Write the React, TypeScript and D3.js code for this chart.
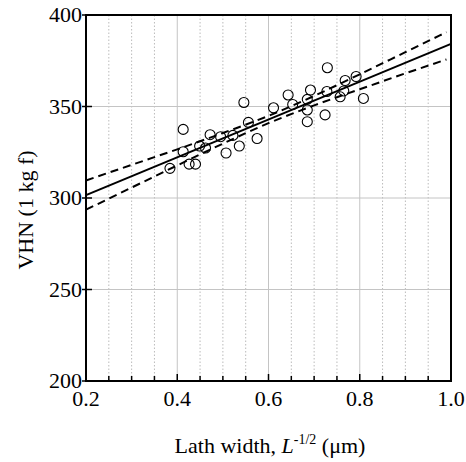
import React from "react";
import * as d3 from "d3";

const W = 466;
const H = 462;
const M = { left: 86, right: 15, top: 15, bottom: 81 };

const xMajorTicks = [0.2, 0.4, 0.6, 0.8, 1.0];
const xMinorTicks = [0.25, 0.3, 0.35, 0.45, 0.5, 0.55, 0.65, 0.7, 0.75, 0.85, 0.9, 0.95];
const yTicks = [200, 250, 300, 350, 400];

const pointX = [0.384, 0.413, 0.413, 0.426, 0.44, 0.449, 0.462, 0.472, 0.495, 0.507, 0.522, 0.536, 0.546, 0.556, 0.575, 0.611, 0.643, 0.653, 0.685, 0.685, 0.685, 0.692, 0.724, 0.729, 0.728, 0.757, 0.768, 0.792, 0.808, 0.765];
const pointY = [316.2, 337.5, 325.3, 318.5, 318.5, 328.4, 327.3, 334.6, 333.5, 324.6, 334.2, 328.4, 352.2, 341.3, 332.5, 349.3, 356.3, 351.1, 353.9, 348.1, 341.7, 359.0, 345.4, 371.2, 358.2, 355.3, 364.2, 366.4, 354.4, 358.5];

const fitX = [0.2, 1.0];
const fitY = [301.6, 384.2];

const bandX = [0.2, 0.3, 0.4, 0.5, 0.6, 0.7, 0.8, 0.9, 0.99];
const bandUpper = [309.6, 318.1, 326.6, 335.5, 344.9, 355.8, 367.6, 379.7, 390.6];
const bandLower = [293.6, 305.7, 317.8, 329.7, 340.9, 350.6, 359.4, 368.1, 375.7];

export default function App() {
  const x = d3.scaleLinear().domain([0.2, 1.0]).range([M.left, W - M.right]);
  const y = d3.scaleLinear().domain([200, 400]).range([H - M.bottom, M.top]);
  const x0 = M.left, x1 = W - M.right, y0 = H - M.bottom, y1 = M.top;

  const line = d3.line<[number, number]>().x((d) => x(d[0])).y((d) => y(d[1]));
  const bandLine = d3
    .line<[number, number]>()
    .x((d) => x(d[0]))
    .y((d) => y(d[1]))
    .curve(d3.curveMonotoneX);

  const fitPts = fitX.map((v, i) => [v, fitY[i]] as [number, number]);
  const upPts = bandX.map((v, i) => [v, bandUpper[i]] as [number, number]);
  const loPts = bandX.map((v, i) => [v, bandLower[i]] as [number, number]);

  const font = "'Liberation Serif', 'Times New Roman', serif";

  return (
    <svg
      width={W}
      height={H}
      style={{ position: "absolute", left: 0, top: 0, background: "#fff" }}
      fontFamily={font}
    >
      <rect x={0} y={0} width={W} height={H} fill="#fff" />
      {xMinorTicks.map((t) => (
        <line key={"mg" + t} x1={x(t)} x2={x(t)} y1={y1} y2={y0} stroke="#bbb" strokeWidth={1} strokeDasharray="1.5,2" />
      ))}
      {xMajorTicks.slice(1, -1).map((t) => (
        <line key={"gx" + t} x1={x(t)} x2={x(t)} y1={y1} y2={y0} stroke="#c4c4c4" strokeWidth={1} />
      ))}
      {yTicks.slice(1, -1).map((t) => (
        <line key={"gy" + t} x1={x0} x2={x1} y1={y(t)} y2={y(t)} stroke="#c4c4c4" strokeWidth={1} />
      ))}

      <path d={bandLine(upPts) || ""} fill="none" stroke="#000" strokeWidth={2} strokeDasharray="8,5" />
      <path d={bandLine(loPts) || ""} fill="none" stroke="#000" strokeWidth={2} strokeDasharray="8,5" />
      <path d={line(fitPts) || ""} fill="none" stroke="#000" strokeWidth={2} />

      {pointX.map((v, i) => (
        <circle key={"p" + i} cx={x(v)} cy={y(pointY[i])} r={5} fill="none" stroke="#000" strokeWidth={1.1} />
      ))}

      <rect x={x0} y={y1} width={x1 - x0} height={y0 - y1} fill="none" stroke="#000" strokeWidth={2} />

      {xMinorTicks.map((t) => (
        <line key={"xt" + t} x1={x(t)} x2={x(t)} y1={y0} y2={y0 - 5} stroke="#000" strokeWidth={1.5} />
      ))}
      {xMajorTicks.map((t) => (
        <line key={"xT" + t} x1={x(t)} x2={x(t)} y1={y0} y2={y0 - 7} stroke="#000" strokeWidth={1.5} />
      ))}
      {xMajorTicks.map((t) => (
        <text key={"xl" + t} x={x(t)} y={406} textAnchor="middle" fontSize={22} fill="#000">
          {d3.format(".1f")(t)}
        </text>
      ))}

      {yTicks.map((t) => (
        <line key={"yt" + t} x1={x0 - 4} x2={x0 + 6} y1={y(t)} y2={y(t)} stroke="#000" strokeWidth={1.5} />
      ))}
      {yTicks.map((t) => (
        <text key={"yl" + t} x={x0 - 4} y={y(t)} dy="0.33em" textAnchor="end" fontSize={22} fill="#000">
          {t}
        </text>
      ))}

      <text x={270} y={453} textAnchor="middle" fontSize={22} fill="#000">
        Lath width,{" "}
        <tspan fontStyle="italic">L</tspan>
        <tspan fontSize={14} dy={-9}>-1/2</tspan>
        <tspan dy={9}> (μm)</tspan>
      </text>
      <text
        transform={`translate(33, 210) rotate(-90)`}
        textAnchor="middle"
        fontSize={22}
        fill="#000"
      >
        VHN (1 kg f)
      </text>
    </svg>
  );
}
